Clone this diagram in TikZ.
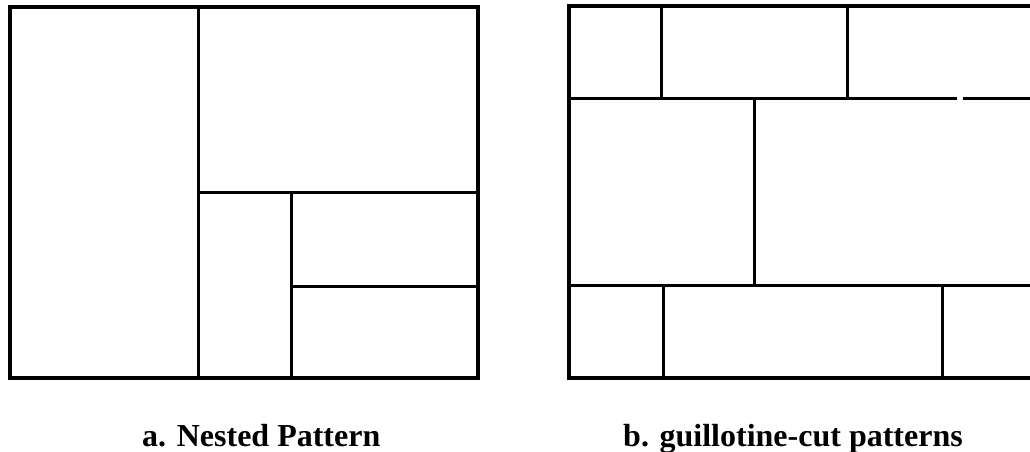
\documentclass[tikz,border=0pt]{standalone}
\usepackage{fontspec}
\setmainfont{Liberation Serif}
\begin{document}
\begin{tikzpicture}[x=1pt,y=-1pt,
  frame/.style={line width=3.4pt,line cap=rect},
  cut/.style={line width=3pt},
  caption/.style={anchor=base west,inner sep=0pt,font=\fontsize{32}{38}\selectfont\bfseries}]
\useasboundingbox (0,0) rectangle (1030,452);
% a. nested pattern
\draw[frame] (10,7) rectangle (478,378);
\draw[cut] (198,7) -- (198,378);
\draw[cut] (198,192) -- (478,192);
\draw[cut] (291,192) -- (291,378);
\draw[cut] (291,286) -- (478,286);
% b. guillotine-cut patterns
\begin{scope}
\clip (0,0) rectangle (1030,452);
\draw[frame] (1040,6) -- (569,6) -- (569,378) -- (1040,378);
\draw[cut] (569,98) -- (957,98);
\draw[cut] (963,98) -- (1040,98);
\draw[cut] (661,6) -- (661,98);
\draw[cut] (847,6) -- (847,98);
\draw[cut] (754,98) -- (754,285);
\draw[cut] (569,285) -- (1040,285);
\draw[cut] (663,285) -- (663,378);
\draw[cut] (942,285) -- (942,378);
\end{scope}
\node[caption] (capa) at (142,446) {a. Nested Pattern};
\node[caption] (capb) at (623,446) {b. guillotine-cut patterns};
\end{tikzpicture}
\end{document}
